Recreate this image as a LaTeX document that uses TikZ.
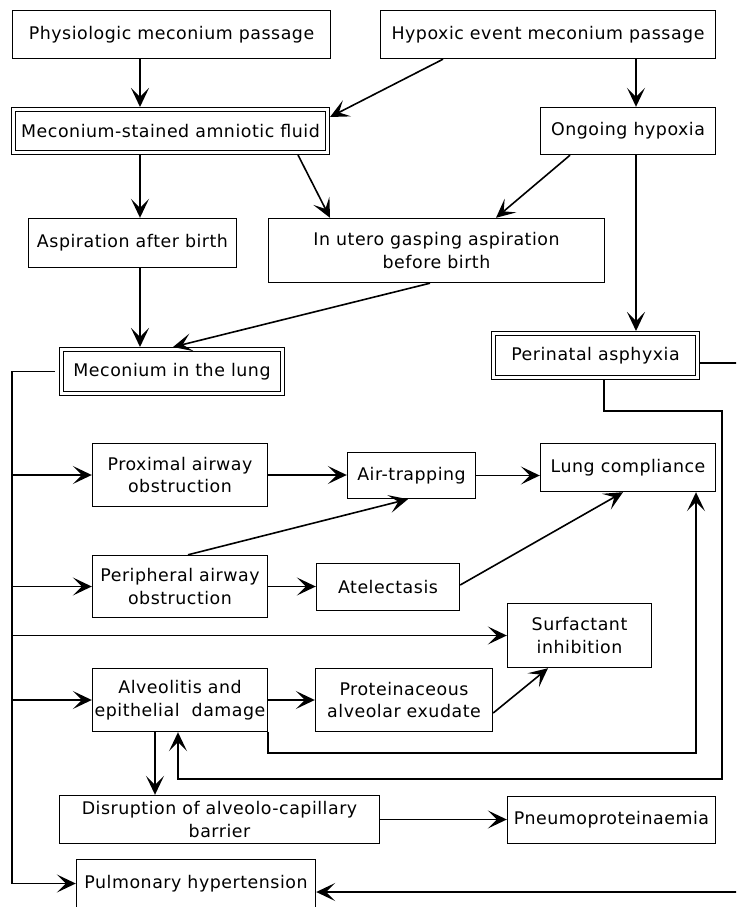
\documentclass[tikz,border=0pt]{standalone}
\usepackage{fontspec}
\setmainfont[LetterSpace=3]{DejaVu Sans}
\usetikzlibrary{arrows.meta}
\newcommand\dgfont{\fontsize{17.4}{22.7}\selectfont}
\begin{document}
\begin{tikzpicture}[x=1pt,y=-1pt,
  box/.style={draw, line width=1.4pt, inner sep=0pt, outer sep=0.7pt, align=center, font=\dgfont},
  dbox/.style={draw, double, line width=1.2pt, double distance=2.4pt, inner sep=0pt, outer sep=2.4pt, align=center, font=\dgfont},
  arr/.style={-{Stealth[length=19pt,width=18pt,inset=9pt]}, line width=1.6pt},
  ln/.style={line width=1.6pt}]
\useasboundingbox (0,0) rectangle (736,907);
\clip (0,0) rectangle (736,907);
\coordinate (trunk) at (12,0);
% nodes
\node[box, minimum width=318pt, minimum height=48pt] (phys) at (171.5,34.5) {Physiologic meconium passage};
\node[box, minimum width=335pt, minimum height=48pt] (hyp) at (548,34.5) {Hypoxic event meconium passage};
\node[dbox, minimum width=314.2pt, minimum height=43.2pt] (msaf) at (170.5,131) {Meconium-stained amniotic fluid};
\node[box, minimum width=175pt, minimum height=47pt] (ongo) at (628,131) {Ongoing hypoxia};
\node[box, minimum width=208pt, minimum height=49pt] (asp) at (132.5,243) {Aspiration after birth};
\node[box, minimum width=336pt, minimum height=64pt] (inutero) at (436.5,250.5) {In utero gasping aspiration\\before birth};
\node[dbox, minimum width=221.2pt, minimum height=44.2pt] (mil) at (172,371.5) {Meconium in the lung};
\node[dbox, minimum width=204.2pt, minimum height=44.2pt] (peri) at (595.5,355.5) {Perinatal asphyxia};
\node[box, minimum width=175pt, minimum height=63pt] (prox) at (180,475) {Proximal airway\\obstruction};
\node[box, minimum width=128pt, minimum height=46pt] (air) at (411.5,475.5) {Air-trapping};
\node[box, minimum width=175pt, minimum height=48pt] (lung) at (628,467.5) {Lung compliance};
\node[box, minimum width=175pt, minimum height=62pt] (perip) at (180,586.5) {Peripheral airway\\obstruction};
\node[box, minimum width=143pt, minimum height=47pt] (atel) at (388,587) {Atelectasis};
\node[box, minimum width=144pt, minimum height=64pt] (surf) at (579.5,635.5) {Surfactant\\inhibition};
\node[box, minimum width=175pt, minimum height=63pt] (alv) at (180,700) {Alveolitis and\\epithelial~ damage};
\node[box, minimum width=177pt, minimum height=63pt] (prot) at (404,700) {Proteinaceous\\alveolar exudate};
\node[box, minimum width=320pt, minimum height=48pt] (disr) at (219.5,819.5) {Disruption of alveolo-capillary\\barrier};
\node[box, minimum width=208pt, minimum height=47pt] (pneu) at (611.5,820) {Pneumoproteinaemia};
\node[box, minimum width=239pt, minimum height=48pt] (pulm) at (196,883.5) {Pulmonary hypertension};
% connectors
\draw[arr] (phys.south -| 140,0) -- (msaf.north -| 140,0);
\draw[arr] (hyp.south -| 443,0) -- (msaf.east |- 0,117);
\draw[arr] (msaf.south -| 140,0) -- (asp.north -| 140,0);
\draw[arr] (msaf.south -| 298,0) -- (inutero.north -| 330,0);
\draw[arr] (hyp.south -| 636,0) -- (ongo.north -| 636,0);
\draw[arr] (ongo.south -| 570,0) -- (inutero.north -| 496,0);
\draw[arr] (asp.south -| 140,0) -- (mil.north -| 140,0);
\draw[arr] (inutero.south -| 430,0) -- (mil.north -| 173,0);
\draw[arr] (ongo.south -| 636,0) -- (peri.north -| 636,0);
\draw[arr] ([xshift=-4pt]mil.west) -- (mil.west -| trunk) |- (pulm.west);
\draw[arr] (prox.west -| trunk) -- (prox.west);
\draw[arr] (perip.west -| trunk) -- (perip.west);
\draw[arr] (surf.west -| trunk) -- (surf.west);
\draw[arr] (alv.west -| trunk) -- (alv.west);
\draw[arr] (prox.east) -- (air.west |- prox.east);
\draw[arr] (air.east) -- (lung.west |- air.east);
\draw[arr] (perip.north -| 188,0) -- (air.south -| 408,0);
\draw[arr] (perip.east) -- (atel.west |- perip.east);
\draw[arr] (atel.east |- 0,585) -- (lung.south -| 623,0);
\draw[arr] (alv.east) -- (prot.west);
\draw[arr] (prot.east |- 0,713) -- (surf.south -| 548,0);
\draw[arr] (alv.south -| 155,0) -- (disr.north -| 155,0);
\draw[arr] (disr.east) -- (pneu.west |- disr.east);
\draw[arr] (alv.south east) -- ++(0,21) -| (lung.south -| 696,0);
\draw[arr] (peri.south -| 604,0) -- ++(0,31) -| (722,779) -| (alv.south -| 178,0);
\draw[arr] (peri.east |- 0,363) -- (750,363) |- (pulm.east |- 0,892);
\end{tikzpicture}
\end{document}
